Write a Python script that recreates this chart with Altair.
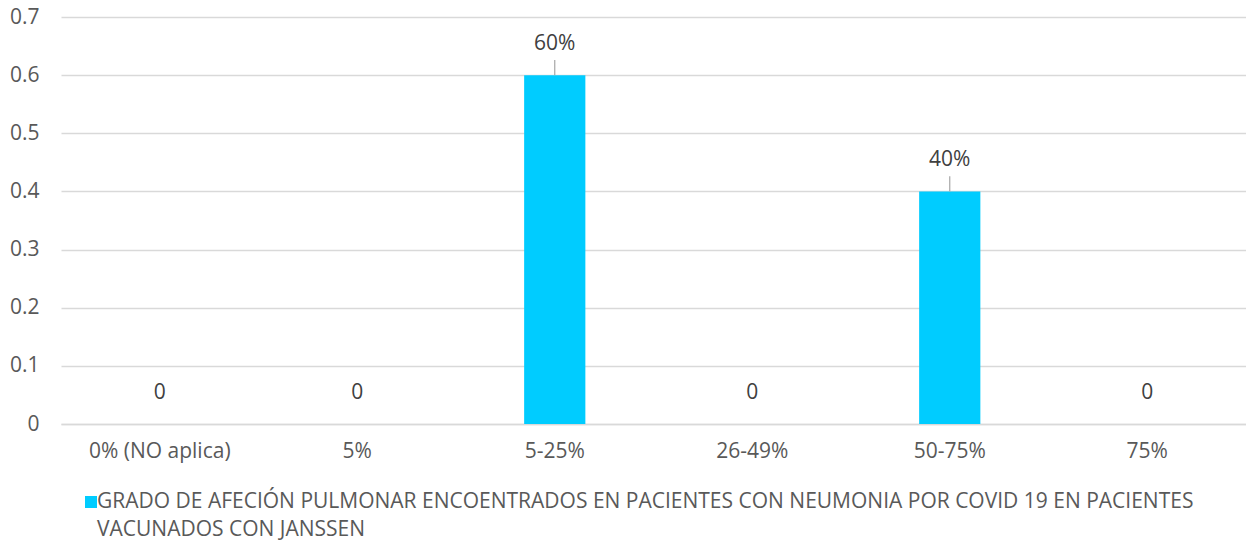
import altair as alt
import pandas as pd

categories = ["0% (NO aplica)", "5%", "5-25%", "26-49%", "50-75%", "75%"]
values = [0, 0, 0.6, 0, 0.4, 0]
labels = ["0", "0", "60%", "0", "40%", "0"]
legend_lines = ["GRADO DE AFECIÓN PULMONAR ENCOENTRADOS EN PACIENTES CON NEUMONIA POR COVID 19 EN PACIENTES",
                "VACUNADOS CON JANSSEN"]
y_ticks = [0, 0.1, 0.2, 0.3, 0.4, 0.5, 0.6, 0.7]

df = pd.DataFrame({"cat": categories, "val": values, "label": labels})
legend_df = pd.DataFrame({"series": [" ".join(legend_lines)]})

FONT = "Open Sans"
GREY = "#595959"
BAR = "#00CCFF"
FS = 21

x_enc = alt.X("cat:N", sort=categories, title=None,
              scale=alt.Scale(paddingInner=0.69, paddingOuter=0.345),
              axis=alt.Axis(labelAngle=0, labelFontSize=FS, labelColor=GREY, labelFont=FONT,
                            labelPadding=16, ticks=False, domainColor="#d9d9d9", domainWidth=1.5))

bars = alt.Chart(df).mark_bar(color=BAR).encode(
    x=x_enc,
    y=alt.Y("val:Q", title=None, scale=alt.Scale(domain=[0, 0.7], nice=False),
            axis=alt.Axis(values=y_ticks, format=".1~f", labelFontSize=FS, labelColor=GREY,
                          labelFont=FONT, labelPadding=22, ticks=False, domain=False,
                          gridColor="#d9d9d9", gridWidth=1.5)),
)

leaders = alt.Chart(df).transform_filter("datum.val > 0").transform_calculate(
    top="datum.val + 0.026").mark_rule(color="#a6a6a6", strokeWidth=1.2).encode(
    x=alt.X("cat:N", sort=categories),
    y="val:Q",
    y2="top:Q",
)

text = alt.Chart(df).mark_text(fontSize=FS, color="#404040", font=FONT, dy=-31).encode(
    x=alt.X("cat:N", sort=categories),
    y="val:Q",
    text="label:N",
)

# legend (symbol + two-line label) placed below the x axis
legend_symbol = alt.Chart(legend_df).mark_square(color=BAR, size=144, opacity=1).encode(
    x=alt.value(30), y=alt.value(485),
)
legend_text = alt.Chart(legend_df).mark_text(
    fontSize=FS, color=GREY, font=FONT, align="left", baseline="top", lineHeight=27.5
).encode(
    x=alt.value(36), y=alt.value(474), text=alt.value(legend_lines),
)

chart = (bars + leaders + text + legend_symbol + legend_text).properties(
    width=1185, height=407,
    autosize=alt.AutoSizeParams(type="none"),
    padding={"left": 53, "top": 9, "right": 0, "bottom": 120},
).configure_view(stroke=None)

chart.save("out.html", embed_options={"renderer": "svg", "actions": False})
